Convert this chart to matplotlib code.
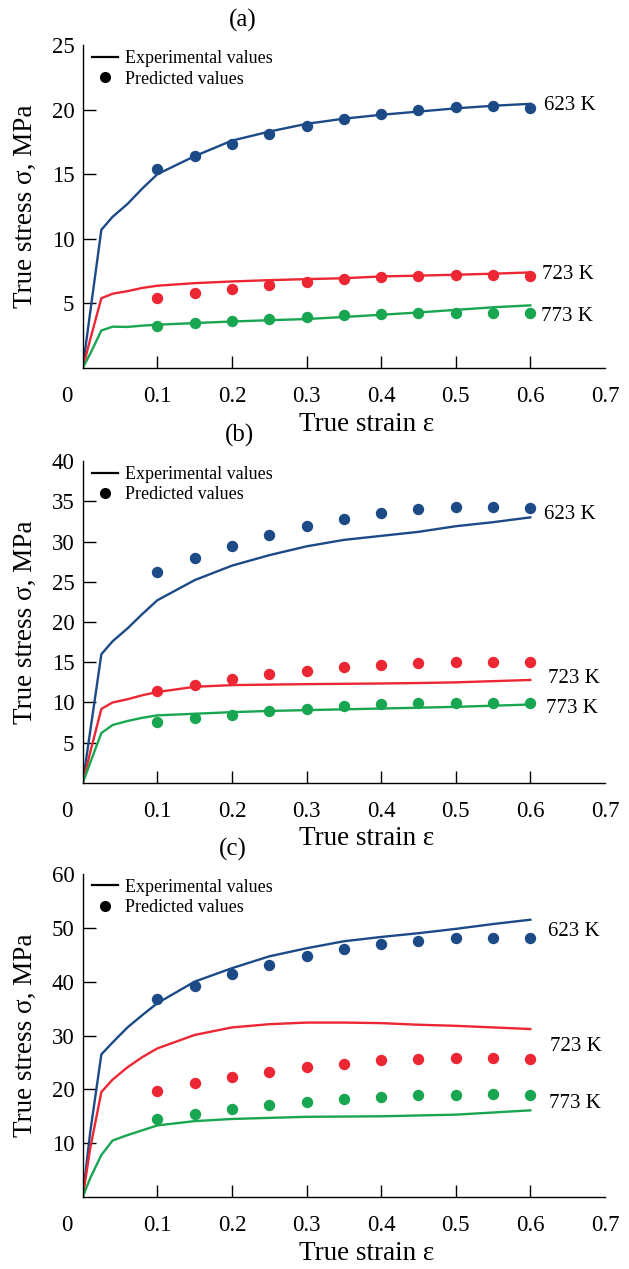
import matplotlib
matplotlib.use("Agg")
import matplotlib.pyplot as plt
from matplotlib.lines import Line2D
from matplotlib.transforms import ScaledTranslation

plt.rcParams['font.family'] = ['Liberation Serif', 'DejaVu Serif']

# strain grids
strain_line = [0, 0.01, 0.025, 0.04, 0.06, 0.08, 0.1, 0.15, 0.2, 0.25, 0.3,
               0.35, 0.4, 0.45, 0.5, 0.55, 0.6]
strain_pred = [0.1, 0.15, 0.2, 0.25, 0.3, 0.35, 0.4, 0.45, 0.5, 0.55, 0.6]
temps = ['623 K', '723 K', '773 K']

# (a) experimental curves
a_exp_623 = [0, 4.3, 10.7, 11.7, 12.7, 13.9, 15.0, 16.4, 17.6, 18.3, 18.9, 19.3, 19.6, 19.85, 20.1, 20.3, 20.45]
a_exp_723 = [0, 2.2, 5.4, 5.75, 5.95, 6.2, 6.37, 6.57, 6.7, 6.8, 6.88, 6.95, 7.09, 7.15, 7.22, 7.3, 7.4]
a_exp_773 = [0, 1.1, 2.9, 3.2, 3.18, 3.28, 3.35, 3.48, 3.6, 3.7, 3.79, 3.95, 4.12, 4.3, 4.5, 4.7, 4.85]
# (a) predicted
a_pred_623 = [15.4, 16.45, 17.35, 18.1, 18.75, 19.3, 19.7, 20.0, 20.2, 20.25, 20.1]
a_pred_723 = [5.45, 5.8, 6.12, 6.44, 6.65, 6.88, 7.04, 7.14, 7.19, 7.19, 7.09]
a_pred_773 = [3.27, 3.48, 3.66, 3.8, 3.98, 4.1, 4.18, 4.25, 4.25, 4.25, 4.25]

# (b) experimental curves
b_exp_623 = [0, 6.4, 16.0, 17.6, 19.2, 21.0, 22.7, 25.2, 27.0, 28.3, 29.4, 30.2, 30.7, 31.2, 31.9, 32.4, 33.0]
b_exp_723 = [0, 3.8, 9.2, 10.0, 10.4, 10.9, 11.3, 11.95, 12.16, 12.22, 12.28, 12.32, 12.36, 12.42, 12.5, 12.65, 12.8]
b_exp_773 = [0, 2.5, 6.2, 7.2, 7.7, 8.1, 8.4, 8.6, 8.8, 8.95, 9.05, 9.15, 9.25, 9.35, 9.46, 9.6, 9.75]
# (b) predicted
b_pred_623 = [26.2, 27.9, 29.45, 30.8, 31.95, 32.85, 33.5, 34.05, 34.25, 34.35, 34.2]
b_pred_723 = [11.45, 12.15, 12.9, 13.5, 13.95, 14.45, 14.65, 14.9, 15.0, 15.05, 15.0]
b_pred_773 = [7.6, 8.1, 8.5, 8.9, 9.25, 9.55, 9.75, 9.9, 9.95, 9.95, 9.9]

# (c) experimental curves
c_exp_623 = [0, 12.0, 26.5, 28.7, 31.5, 33.8, 36.0, 40.0, 42.5, 44.7, 46.2, 47.5, 48.3, 49.0, 49.8, 50.7, 51.5]
c_exp_723 = [0, 9.0, 19.5, 21.8, 24.1, 26.0, 27.6, 30.1, 31.5, 32.1, 32.4, 32.4, 32.3, 32.0, 31.8, 31.5, 31.2]
c_exp_773 = [0, 3.5, 7.8, 10.5, 11.5, 12.4, 13.3, 14.1, 14.5, 14.7, 14.9, 14.95, 15.0, 15.15, 15.3, 15.7, 16.1]
# (c) predicted
c_pred_623 = [36.7, 39.2, 41.4, 43.1, 44.8, 46.1, 47.0, 47.6, 48.1, 48.2, 48.1]
c_pred_723 = [19.7, 21.1, 22.3, 23.3, 24.2, 24.8, 25.4, 25.7, 25.9, 25.9, 25.7]
c_pred_773 = [14.45, 15.45, 16.4, 17.1, 17.7, 18.2, 18.6, 18.9, 19.0, 19.1, 19.0]

colors = ['#1b4a86', '#ec2632', '#18a650']

panels = [
    dict(tag='(a)', ymax=25, yticks=[5, 10, 15, 20, 25],
         exp=[a_exp_623, a_exp_723, a_exp_773], pred=[a_pred_623, a_pred_723, a_pred_773],
         lab_pos=[(0.619, 20.3), (0.616, 7.2), (0.615, 3.95)],
         rect=[0.1315, 0.7100, 0.8302, 0.2545], tag_xy=(0.386, 0.984)),
    dict(tag='(b)', ymax=40, yticks=[5, 10, 15, 20, 25, 30, 35, 40],
         exp=[b_exp_623, b_exp_723, b_exp_773], pred=[b_pred_623, b_pred_723, b_pred_773],
         lab_pos=[(0.619, 33.4), (0.624, 13.0), (0.621, 9.25)],
         rect=[0.1315, 0.3830, 0.8302, 0.2537], tag_xy=(0.380, 0.657)),
    dict(tag='(c)', ymax=60, yticks=[10, 20, 30, 40, 50, 60],
         exp=[c_exp_623, c_exp_723, c_exp_773], pred=[c_pred_623, c_pred_723, c_pred_773],
         lab_pos=[(0.624, 49.3), (0.626, 27.9), (0.625, 17.4)],
         rect=[0.1315, 0.0567, 0.8302, 0.2546], tag_xy=(0.370, 0.331)),
]

fig = plt.figure(figsize=(6.29, 12.69), dpi=100)

for p in panels:
    ax = fig.add_axes(p['rect'])
    for exp, pred, col, t, (lx, ly) in zip(p['exp'], p['pred'], colors, temps, p['lab_pos']):
        ax.plot(strain_line, exp, color=col, lw=1.7, zorder=2)
        ax.plot(strain_pred, pred, 'o', color=col, ms=8.2, mec='none', zorder=3)
        ax.text(lx, ly, t, fontsize=15, ha='left', va='center')

    ax.set_xlim(0, 0.7)
    ax.set_ylim(0, p['ymax'])
    for s in ['top', 'right']:
        ax.spines[s].set_visible(False)
    ax.spines['left'].set_linewidth(1.0)
    ax.spines['bottom'].set_linewidth(1.0)

    ax.set_xticks([0, 0.1, 0.2, 0.3, 0.4, 0.5, 0.6, 0.7])
    ax.set_xticklabels(['0', '0.1', '0.2', '0.3', '0.4', '0.5', '0.6', '0.7'])
    ax.set_yticks(p['yticks'])
    ax.set_yticklabels([str(v) for v in p['yticks']])
    ax.tick_params(axis='x', direction='in', length=9, width=1.0, labelsize=16.5, pad=13)
    ax.tick_params(axis='y', direction='in', length=9, width=1.0, labelsize=16.5, pad=6)
    xt = ax.xaxis.get_major_ticks()
    xt[0].tick1line.set_visible(False)
    xt[-1].tick1line.set_visible(False)
    xt[0].label1.set_transform(xt[0].label1.get_transform() +
                               ScaledTranslation(-16 / 100, 0, fig.dpi_scale_trans))
    yt = ax.yaxis.get_major_ticks()
    if p['yticks'][-1] == p['ymax']:
        yt[-1].tick1line.set_visible(False)

    ax.set_xlabel('True strain ε', fontsize=19.5)
    ax.xaxis.set_label_coords(0.544, -0.135)
    ax.xaxis.label.set_va('top')
    ax.set_ylabel('True stress σ, MPa', fontsize=19.5)
    ax.yaxis.set_label_coords(-0.086, 0.5)

    handles = [Line2D([], [], color='black', lw=1.6),
               Line2D([], [], marker='o', ls='', color='black', ms=7)]
    ax.legend(handles, ['Experimental values', 'Predicted values'], loc='upper left',
              bbox_to_anchor=(0.017, 0.985), frameon=False, fontsize=13,
              borderpad=0, borderaxespad=0, handlelength=1.45, handletextpad=0.4,
              labelspacing=0.2)

    fig.text(p['tag_xy'][0], p['tag_xy'][1], p['tag'], fontsize=18, ha='center', va='center')

fig.savefig('out.png', dpi=100)
